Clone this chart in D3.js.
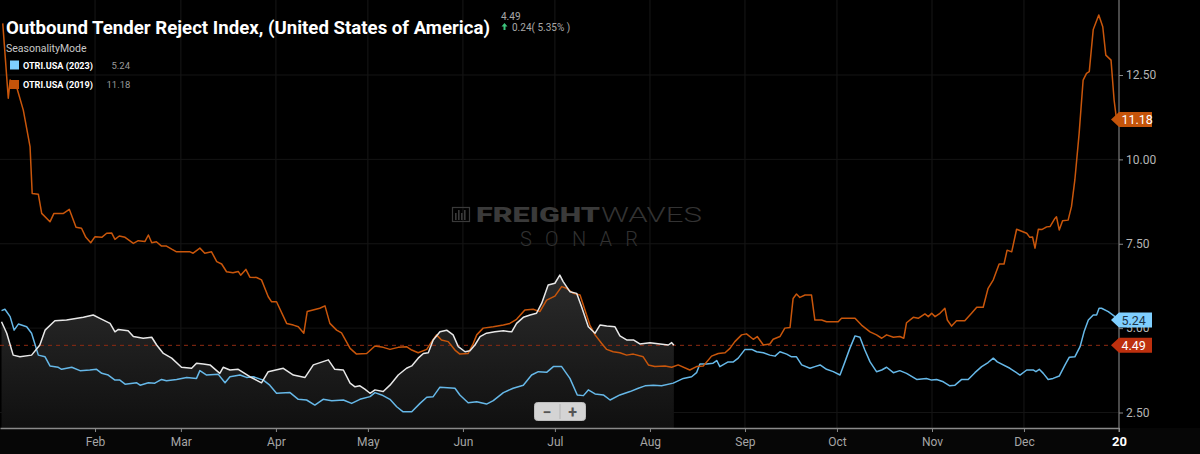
<!DOCTYPE html>
<html>
<head>
<meta charset="utf-8">
<script src="https://cdn.jsdelivr.net/npm/d3@7"></script>
<style>
html, body { margin: 0; padding: 0; background: #000; }
svg { display: block; font-family: Roboto, "Noto Sans", sans-serif; }
</style>
</head>
<body>
<svg id="chart"></svg>
<script>
// days counted from Jan 1 (seasonality view, one calendar year)
const currentDays = [0.5,2.2,4.3,6.5,10.3,13,14.7,17.9,21.7,27.2,30.4,32.6,35.9,37.5,38.6,41.8,43.5,46.7,49.5,51.1,
  53.3,56,59.2,62.5,64.1,66.3,68.5,71.7,72.8,75,77.7,81.5,85.3,87.5,92.4,95.7,99.5,102.2,107.1,109.2,
  112,114.2,115.8,117.4,119,120.7,122.3,125,127.2,129.9,132.6,134.3,136.4,138.1,139.7,141.3,143.5,145.7,147.8,149.5,
  151.7,153.3,154.9,156.6,158.7,161.4,164.2,166.9,168.5,170.7,172.9,175,176.7,178.8,181,182.6,183.7,185.9,188.1,189.7,
  191.9,194.1,195.7,197.9,200.6,202.2,204.4,206.6,208.7,212,215.3,218,219.1,219.8];
const currentValues = [5.19,4.85,4.20,4.15,4.20,4.50,4.94,5.22,5.24,5.32,5.39,5.29,5.14,4.89,4.96,4.92,4.75,4.70,4.73,4.50,
  4.25,4.11,3.84,3.81,3.96,3.94,3.91,3.66,3.84,3.76,3.78,3.56,3.38,3.71,3.81,3.61,3.54,3.91,4.06,3.78,
  3.76,3.37,3.26,3.29,3.19,3.07,3.17,3.12,3.31,3.61,3.81,3.88,4.11,4.25,4.27,4.65,4.89,4.94,4.80,4.45,
  4.30,4.33,4.50,4.75,4.85,4.89,4.92,4.89,5.14,5.32,5.39,5.44,5.74,6.28,6.33,6.57,6.38,6.08,6.03,5.63,
  5.04,4.85,5.09,5.06,5.04,4.77,4.65,4.65,4.53,4.57,4.53,4.50,4.57,4.49];

const days2023 = [0.5,1.6,3.3,4.6,6,8.7,10.3,12.5,14.7,16.3,19,20.1,23.4,26.1,29.3,31.5,33.2,35.3,37.5,39.1,
  40.8,44.6,45.7,48.4,50.5,52.7,54.3,57.6,60.9,64.1,65.2,67.4,71.2,73.4,75,78.3,80.4,82.6,85.9,88,
  90.2,94.6,97.3,100,102.7,105.4,108.2,112,114.7,117.4,120.7,122.3,124.5,127.2,129.4,131.5,134.3,137,139.2,141.3,
  143.5,148.4,150,152.7,155.5,158.7,160.9,164.2,167.4,170.7,173.4,175.6,178.3,180.5,183.2,185.9,188.3,190.3,191.9,194.1,
  196.8,199,202.2,205.5,208.2,210.4,213.1,215.8,219.6,222.9,225.6,227.2,228.3,230.5,232.6,233.8,234.8,237.5,239.2,240.8,
  243,245.2,246.8,249,251.1,252.8,254.4,256.6,258.2,259.8,261.5,264.2,265.8,267.5,269.6,271.8,274,275.6,277.2,278.9,
  280.5,282.1,283.8,285.9,287.6,289.2,291.4,293.5,295.7,299,302.2,303.9,305.5,307.7,309.8,311.5,313.7,315.8,318,320.2,
  322.3,324,325.3,329.4,332.7,334.9,337,337.9,339,340.3,341.9,343.5,345.5,347.4,348.8,350.6,352.3,353.6,355,356.6,
  357.7,358.5,359.3,361.5,363.7,364.7];
const values2023 = [5.52,5.56,5.34,4.94,5.12,5.04,4.85,4.20,4.15,3.88,3.84,3.78,3.84,3.74,3.76,3.78,3.66,3.61,3.46,3.46,
  3.34,3.38,3.31,3.38,3.37,3.48,3.44,3.48,3.54,3.51,3.74,3.61,3.63,3.38,3.56,3.61,3.54,3.56,3.46,3.31,
  3.07,3.09,2.89,2.87,2.72,2.89,2.85,2.87,2.77,2.89,2.97,3.09,3.02,2.89,2.67,2.52,2.52,2.77,2.95,2.97,
  3.25,3.22,3.02,2.79,2.82,2.75,2.85,3.09,3.22,3.31,3.61,3.71,3.69,3.86,3.86,3.51,3.02,3.00,3.17,3.05,
  3.02,2.87,3.02,3.12,3.22,3.29,3.31,3.29,3.37,3.51,3.56,3.68,3.94,3.94,3.96,4.04,3.86,4.00,4.00,4.11,
  4.37,4.37,4.30,4.27,4.20,4.17,4.30,4.23,4.15,4.15,3.91,3.81,3.86,3.91,3.78,3.71,3.61,4.00,4.40,4.77,
  4.73,4.35,4.00,3.71,3.76,3.84,3.68,3.74,3.66,3.48,3.51,3.46,3.48,3.41,3.29,3.31,3.48,3.48,3.68,3.86,
  3.98,4.11,4.00,3.81,3.61,3.76,3.76,3.71,3.78,3.66,3.48,3.51,3.58,3.91,4.14,4.15,4.45,4.89,5.24,5.39,
  5.39,5.59,5.59,5.49,5.34,5.24];

const days2019 = [0.9,2.7,3.3,5.4,7.6,9.8,10.5,12.5,13.6,16.3,17.6,20.7,22.6,24.8,26.6,28,29.6,31,33.2,34.8,
  36.4,37.5,38.9,40.8,43.5,45.1,47.3,48.4,49.5,51,52.7,54.3,56,57.6,62,63,65.2,66.8,69,70.7,
  72.3,73.9,76,77.7,78.5,80.2,81.5,83.7,85.3,87.5,88.6,90.2,93.5,95.7,97.3,99.1,100.2,104.3,106,107.6,
  109.8,111.4,114.2,116.3,119.6,122.3,125,127.2,129.9,132.6,134.3,136.4,139.2,140.8,142.4,144,146.2,148.4,150,152.7,
  154.4,155.5,157.6,160.9,164.2,166.3,168.5,171.2,173.9,176.1,178.3,181,183.2,184.8,187,189.2,190.8,192.4,194.1,196.2,
  197.9,200,202.2,204.4,206.6,209.8,211.5,213.6,216.9,219.1,221.2,225,227.2,229.4,232.1,234.3,236.5,238.1,239.7,241.9,
  243.5,245.7,247,249,251.1,252.2,254.4,256,257.7,258.7,259.8,260.9,262.6,264.7,265.8,268,269.6,273.4,274.5,278.9,
  281,283.8,285.9,287.6,289.2,291.4,293.5,294.8,295.7,297.9,299.5,301.7,302.8,303.9,305,306.6,308.2,309,310.4,312,
  314.7,316.9,318.6,320.7,322.3,324,325.9,327.5,328.5,330,331.6,334.9,335.9,336.8,337.6,338.7,339.8,341.4,342.5,344.1,
  344.6,345.5,346.6,348.4,349.5,350.6,352,353.3,354.4,355.3,356.6,358.4,359.7,360.7,362.4,363.4,364.2];
const values2019 = [14.03,11.81,12.35,12.15,11.46,10.38,8.99,8.97,8.40,8.15,8.40,8.40,8.52,7.99,7.96,7.69,7.53,7.71,7.69,7.81,
  7.82,7.63,7.73,7.69,7.51,7.59,7.57,7.76,7.53,7.56,7.43,7.43,7.34,7.26,7.26,7.22,7.37,7.22,7.26,6.97,
  6.90,6.67,6.64,6.68,6.57,6.74,6.51,6.50,6.43,5.93,5.78,5.78,5.14,5.09,5.04,4.85,5.49,5.59,5.66,5.14,
  4.94,4.86,4.40,4.23,4.25,4.47,4.43,4.37,4.43,4.45,4.35,4.27,4.37,4.60,4.80,4.65,4.60,4.35,4.23,4.25,
  4.55,4.80,5.00,5.04,5.09,5.14,5.26,5.54,5.56,5.49,5.83,5.95,6.23,6.18,6.03,5.98,5.54,5.09,4.80,4.55,
  4.37,4.30,4.27,4.20,4.23,4.15,3.91,3.86,3.88,3.84,3.91,3.76,3.86,3.88,4.17,4.25,4.27,4.40,4.60,4.80,
  4.83,4.67,4.75,4.50,4.53,4.67,4.75,5.00,5.02,5.88,6.01,5.91,5.98,5.98,5.24,5.24,5.19,5.19,5.29,5.29,
  5.09,4.89,4.80,4.70,4.80,4.73,4.75,4.70,5.16,5.32,5.29,5.42,5.34,5.44,5.34,5.44,5.59,5.24,5.06,5.22,
  5.22,5.44,5.62,5.62,6.18,6.43,6.90,6.90,7.31,7.26,7.93,7.81,7.69,7.70,7.37,7.93,7.92,8.00,8.01,8.25,
  8.30,7.91,8.18,8.20,8.60,9.39,10.77,12.35,12.55,12.60,13.85,14.28,13.93,13.09,12.94,11.76,11.18];

const yTicks = [2.5, 5, 7.5, 10, 12.5];
const monthLabels = ["Feb","Mar","Apr","May","Jun","Jul","Aug","Sep","Oct","Nov","Dec","20"];
const legendNames = ["OTRI.USA (2023)", "OTRI.USA (2019)"];
const lastCurrent = 4.49, change = "0.24", changePct = "5.35%";

const W = 1200, H = 454;
const plotRight = 1119, axisY = 428;
const svg = d3.select("#chart").attr("width", W).attr("height", H);

const start = Date.UTC(2019, 0, 1);
const toDate = d => new Date(start + d * 864e5);
const x = d3.scaleUtc().domain([toDate(0), toDate(365)]).range([0, plotRight]);
const y = d3.scaleLinear().domain([2.5, 12.5]).range([412.5, 75]);

const current = currentDays.map((d, i) => ({date: toDate(d), v: currentValues[i]}));
const s2023 = days2023.map((d, i) => ({date: toDate(d), v: values2023[i]}));
const s2019 = days2019.map((d, i) => ({date: toDate(d), v: values2019[i]}));

svg.append("rect").attr("width", W).attr("height", H).attr("fill", "#000");
svg.append("rect").attr("x", 0).attr("y", axisY).attr("width", W).attr("height", H - axisY).attr("fill", "#060606");

const monthTicks = d3.utcMonth.range(toDate(31), toDate(366));

// faint grid
svg.append("g").selectAll("line").data(monthTicks).join("line")
  .attr("x1", d => x(d)).attr("x2", d => x(d)).attr("y1", 0).attr("y2", axisY)
  .attr("stroke", "#171717");
svg.append("g").selectAll("line").data(yTicks).join("line")
  .attr("x1", 0).attr("x2", plotRight).attr("y1", d => y(d)).attr("y2", d => y(d))
  .attr("stroke", "#141414");

// watermark
const wm = svg.append("g").attr("fill", "#3a3a3a");
wm.append("rect").attr("x", 452.5).attr("y", 207.5).attr("width", 17).attr("height", 14)
  .attr("fill", "none").attr("stroke", "#3a3a3a").attr("stroke-width", 1.2);
[455, 458, 461, 464].forEach((bx, i) => wm.append("rect").attr("x", bx).attr("y", i % 2 ? 210 : 213)
  .attr("width", 1.6).attr("height", i % 2 ? 10 : 7));
wm.append("text").attr("x", 476).attr("y", 222).attr("font-size", 20).attr("font-weight", 900)
  .attr("textLength", 124).attr("lengthAdjust", "spacingAndGlyphs").text("FREIGHT");
wm.append("text").attr("x", 601).attr("y", 222).attr("font-size", 20).attr("font-weight", 300)
  .attr("fill", "#333").attr("textLength", 101).attr("lengthAdjust", "spacingAndGlyphs").text("WAVES");
wm.append("text").attr("x", 520).attr("y", 246).attr("font-size", 20).attr("font-weight", 300)
  .attr("fill", "#313131").attr("textLength", 118).attr("lengthAdjust", "spacing").text("SONAR");

// area under the current series
const grad = svg.append("defs").append("linearGradient").attr("id", "areaGrad")
  .attr("gradientUnits", "userSpaceOnUse").attr("x1", 0).attr("y1", 270).attr("x2", 0).attr("y2", axisY);
grad.append("stop").attr("offset", 0).attr("stop-color", "#2c2c2c");
grad.append("stop").attr("offset", 1).attr("stop-color", "#101010");

svg.append("path").datum(current)
  .attr("d", d3.area().x(d => x(d.date)).y0(axisY).y1(d => y(d.v)))
  .attr("fill", "url(#areaGrad)");

// last value dashed line
svg.append("line").attr("x1", 0).attr("x2", plotRight)
  .attr("y1", y(lastCurrent)).attr("y2", y(lastCurrent))
  .attr("stroke", "#8e2b12").attr("stroke-dasharray", "4,4");

const line = d3.line().x(d => x(d.date)).y(d => y(d.v));
svg.append("path").datum(s2023).attr("d", line).attr("fill", "none")
  .attr("stroke", "#66b8e8").attr("stroke-width", 1.5).attr("stroke-linejoin", "round");
svg.append("path").datum(s2019).attr("d", line).attr("fill", "none")
  .attr("stroke", "#c9560b").attr("stroke-width", 1.5).attr("stroke-linejoin", "round");
svg.append("path").datum(current).attr("d", line).attr("fill", "none")
  .attr("stroke", "#e8e8e8").attr("stroke-width", 1.5).attr("stroke-linejoin", "round");

// axes
const xAxis = svg.append("g").attr("transform", `translate(0,${axisY})`)
  .call(d3.axisBottom(x).tickValues(monthTicks).tickFormat((d, i) => monthLabels[i])
    .tickSize(4).tickSizeOuter(0).tickPadding(5));
xAxis.select(".domain").attr("stroke", "#8a8a8a").attr("stroke-width", 1.5);
xAxis.selectAll(".tick line").attr("stroke", "#8a8a8a");
xAxis.selectAll(".tick text").attr("fill", "#a5a5a5").attr("font-size", 12)
  .attr("font-family", "Roboto, sans-serif");
xAxis.selectAll(".tick text").filter((d, i) => i === monthLabels.length - 1)
  .attr("fill", "#fff").attr("font-weight", "bold").attr("font-size", 13);

svg.append("line").attr("x1", plotRight).attr("x2", plotRight).attr("y1", 0).attr("y2", axisY + 4)
  .attr("stroke", "#8a8a8a");
const yAxis = svg.append("g").attr("transform", `translate(${plotRight},0)`)
  .call(d3.axisRight(y).tickValues(yTicks).tickFormat(d3.format(".2f")).tickSize(4).tickPadding(3));
yAxis.select(".domain").remove();
yAxis.selectAll(".tick line").attr("stroke", "#8a8a8a");
yAxis.selectAll(".tick text").attr("fill", "#b5b5b5").attr("font-size", 12)
  .attr("font-family", "Roboto, sans-serif");

// value tags on the right axis
function tag(v, label, fill, textFill) {
  const cy = y(v), h = 7.5, tip = plotRight - 8, right = plotRight + 33;
  svg.append("path")
    .attr("d", `M${tip},${cy} L${plotRight},${cy - h} L${right},${cy - h} L${right},${cy + h} L${plotRight},${cy + h} Z`)
    .attr("fill", fill);
  svg.append("text").attr("x", plotRight + 2.5).attr("y", cy).attr("dy", "0.36em")
    .attr("font-size", 12.5).attr("fill", textFill).text(label);
}
tag(values2019[values2019.length - 1], "11.18", "#c4540a", "#fff");
tag(values2023[values2023.length - 1], "5.24", "#7fcfff", "#1b3347");
tag(lastCurrent, "4.49", "#be300e", "#fff");

// zoom buttons
const zb = svg.append("g");
zb.append("rect").attr("x", 534.5).attr("y", 402.5).attr("width", 51).attr("height", 18).attr("rx", 3)
  .attr("fill", "#d4d4d4").attr("stroke", "#bdbdbd");
zb.append("line").attr("x1", 560).attr("x2", 560).attr("y1", 404).attr("y2", 419).attr("stroke", "#b4b4b4");
zb.selectAll("text").data(["\u2212", "+"]).join("text")
  .attr("x", (d, i) => i ? 572.5 : 547).attr("y", 412).attr("dy", "0.36em")
  .attr("text-anchor", "middle").attr("font-size", 16).attr("font-weight", "bold")
  .attr("fill", "#555").text(d => d);

// title and legend
svg.append("text").attr("x", 6).attr("y", 34).attr("font-size", 18.5).attr("font-weight", "bold")
  .attr("fill", "#fff").attr("textLength", 484).attr("lengthAdjust", "spacingAndGlyphs")
  .text("Outbound  Tender Reject Index, (United States of America)");
svg.append("text").attr("x", 501).attr("y", 20).attr("font-size", 10).attr("fill", "#a8a8a8").text(lastCurrent.toFixed(2));
svg.append("path").attr("d", "M504.5,23 L507.5,26.5 L505.5,26.5 L505.5,30 L503.5,30 L503.5,26.5 L501.5,26.5 Z")
  .attr("fill", "#3cc47c");
svg.append("text").attr("x", 512).attr("y", 31).attr("font-size", 10).attr("fill", "#a8a8a8")
  .text(`${change}( ${changePct} )`);

svg.append("text").attr("x", 6).attr("y", 52).attr("font-size", 10.5).attr("fill", "#c8c8c8").text("SeasonalityMode");
const legendColors = ["#7fd0ff", "#c4540a"];
const legendValues = [values2023[values2023.length - 1], values2019[values2019.length - 1]];
const lg = svg.append("g").selectAll("g").data(legendNames).join("g")
  .attr("transform", (d, i) => `translate(0,${i * 19.5})`);
lg.append("rect").attr("x", 10).attr("y", 60.5).attr("width", 9).attr("height", 9)
  .attr("fill", (d, i) => legendColors[i]);
lg.append("text").attr("x", 23).attr("y", 68.5).attr("font-size", 9.5).attr("font-weight", "bold")
  .attr("fill", "#fff").attr("textLength", 70).attr("lengthAdjust", "spacingAndGlyphs").text(d => d);
lg.append("text").attr("x", (d, i) => i ? 106.5 : 111.5).attr("y", 68.5).attr("font-size", 9.5)
  .attr("fill", "#9a9a9a").text((d, i) => legendValues[i].toFixed(2));
</script>
</body>
</html>
